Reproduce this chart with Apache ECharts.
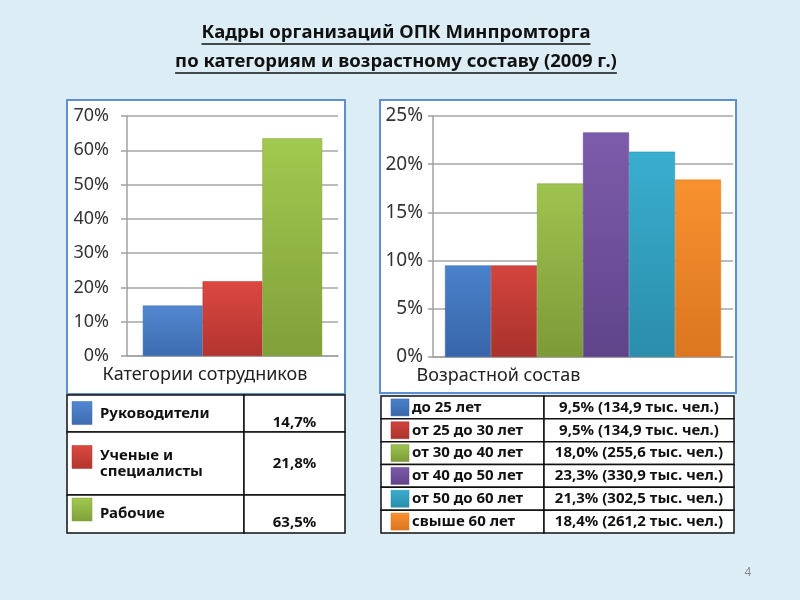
<!DOCTYPE html>
<html><head><meta charset="utf-8">
<script src="https://cdn.jsdelivr.net/npm/echarts@6/dist/echarts.min.js"></script>
<style>html,body{margin:0;padding:0;background:#dcedf5}#c{width:800px;height:600px}</style>
</head><body><div id="c"></div>
<script>
// ---- data ----
const titleLines = ['Кадры организаций ОПК Минпромторга', 'по категориям и возрастному составу (2009 г.)'];
const catAxis = ['Категории сотрудников'];
const catNames = ['Руководители', 'Ученые и\nспециалисты', 'Рабочие'];
const catValues = [14.7, 21.8, 63.5];
const ageAxis = ['Возрастной состав'];
const ageNames = ['до 25 лет', 'от 25 до 30 лет', 'от 30 до 40 лет', 'от 40 до 50 лет', 'от 50 до 60 лет', 'свыше 60 лет'];
const ageValues = [9.5, 9.5, 18.0, 23.3, 21.3, 18.4];
const ageThousands = [134.9, 134.9, 255.6, 330.9, 302.5, 261.2];
const leftTicks = {min: 0, max: 70, interval: 10};
const rightTicks = {min: 0, max: 25, interval: 5};
const pageNumber = '4';

// ---- styles ----
const FONT = '"Noto Sans", sans-serif';
const catColors = [['#5287d0', '#3d6cb0'], ['#dc4842', '#b3352f'], ['#a2c94f', '#80a03a']];
const ageColors = [['#4a82cc', '#3865a8'], ['#d4443e', '#a8322c'], ['#9fc34f', '#7d9a38'],
                   ['#7d5cab', '#5f448a'], ['#3aaecf', '#2a8dab'], ['#f8912f', '#dc7620']];
const fmt = v => v.toFixed(1).replace('.', ',');
const grad = c => new echarts.graphic.LinearGradient(0, 0, 0, 1, [{offset: 0, color: c[0]}, {offset: 1, color: c[1]}]);

const chart = echarts.init(document.getElementById('c'));

// measure text for underline
const ctx = document.createElement('canvas').getContext('2d');
function tw(text, font) { ctx.font = font; return ctx.measureText(text).width; }

const graphics = [];
// panels
graphics.push({type: 'rect', z: -10, shape: {x: 67, y: 100, width: 278, height: 294},
  style: {fill: '#fff', stroke: '#5c90d2', lineWidth: 2}});
graphics.push({type: 'rect', z: -10, shape: {x: 380, y: 100, width: 356, height: 293},
  style: {fill: '#fff', stroke: '#5c90d2', lineWidth: 2}});

// title
const titleFont = 'bold 18.5px "Noto Sans"';
const titleY = [33, 62];
titleLines.forEach((t, i) => {
  graphics.push({type: 'text', x: 396, y: titleY[i],
    style: {text: t, font: titleFont, fill: '#111', align: 'center', verticalAlign: 'middle'}});
  const w = tw(t, titleFont);
  graphics.push({type: 'line', shape: {x1: 396 - w / 2, y1: titleY[i] + 11, x2: 396 + w / 2, y2: titleY[i] + 11},
    style: {stroke: '#111', lineWidth: 1.5}});
});
graphics.push({type: 'text', x: 748, y: 573,
  style: {text: pageNumber, font: '12px "Noto Sans"', fill: '#8a8a8a', align: 'center', verticalAlign: 'middle'}});

// left table
const lRows = [395, 432, 495, 533];
const lCols = [67, 244, 345];
const lValOffset = [9, 0, 9];
const lSwOffset = [-12, -18, -16];
for (let i = 0; i < catNames.length; i++) {
  const top = lRows[i], h = lRows[i + 1] - lRows[i], cy = top + h / 2;
  graphics.push({type: 'rect', shape: {x: lCols[0], y: top, width: lCols[1] - lCols[0], height: h},
    style: {fill: '#fff', stroke: '#111', lineWidth: 1.5}});
  graphics.push({type: 'rect', shape: {x: lCols[1], y: top, width: lCols[2] - lCols[1], height: h},
    style: {fill: '#fff', stroke: '#111', lineWidth: 1.5}});
  graphics.push({type: 'rect', shape: {x: 72, y: cy + lSwOffset[i], width: 20, height: 23},
    style: {fill: grad(catColors[i]), stroke: catColors[i][1], lineWidth: 0.5}});
  graphics.push({type: 'text', x: 100, y: cy,
    style: {text: catNames[i], font: 'bold 15px "Noto Sans"', fill: '#111', verticalAlign: 'middle', lineHeight: 16}});
  graphics.push({type: 'text', x: (lCols[1] + lCols[2]) / 2, y: cy + lValOffset[i],
    style: {text: fmt(catValues[i]) + '%', font: 'bold 15px "Noto Sans"', fill: '#111', align: 'center', verticalAlign: 'middle'}});
}

// right table
const rTop = 396, rH = (533 - 396) / 6;
const rCols = [381, 544, 734];
for (let i = 0; i < ageNames.length; i++) {
  const top = rTop + i * rH, cy = top + rH / 2;
  graphics.push({type: 'rect', shape: {x: rCols[0], y: top, width: rCols[1] - rCols[0], height: rH},
    style: {fill: '#fff', stroke: '#111', lineWidth: 1.5}});
  graphics.push({type: 'rect', shape: {x: rCols[1], y: top, width: rCols[2] - rCols[1], height: rH},
    style: {fill: '#fff', stroke: '#111', lineWidth: 1.5}});
  graphics.push({type: 'rect', shape: {x: 391, y: cy - 8.5, width: 18, height: 17},
    style: {fill: grad(ageColors[i]), stroke: ageColors[i][1], lineWidth: 0.5}});
  graphics.push({type: 'text', x: 412, y: cy,
    style: {text: ageNames[i], font: 'bold 15px "Noto Sans"', fill: '#111', verticalAlign: 'middle'}});
  graphics.push({type: 'text', x: (rCols[1] + rCols[2]) / 2, y: cy,
    style: {text: fmt(ageValues[i]) + '% (' + fmt(ageThousands[i]) + ' тыс. чел.)',
      font: 'bold 15px "Noto Sans"', fill: '#111', align: 'center', verticalAlign: 'middle'}});
}

const yAxisCommon = (t, margin, tick, fs) => ({
  type: 'value', min: t.min, max: t.max, interval: t.interval,
  axisLabel: {formatter: v => v + '%', color: '#333', fontSize: fs, fontFamily: FONT, margin: margin},
  axisLine: {show: true, lineStyle: {color: '#a0a0a0', width: 1.5}},
  axisTick: {show: true, length: tick, lineStyle: {color: '#a0a0a0', width: 1.5}},
  splitLine: {show: true, lineStyle: {color: '#a6a6a6', width: 1.5}}
});

const series = [];
catValues.forEach((v, i) => series.push({
  type: 'bar', name: catNames[i], xAxisIndex: 0, yAxisIndex: 0, data: [v],
  barGap: '0%', barCategoryGap: '15%',
  itemStyle: {color: grad(catColors[i]), borderColor: catColors[i][1], borderWidth: 0.5}
}));
ageValues.forEach((v, i) => series.push({
  type: 'bar', name: ageNames[i], xAxisIndex: 1, yAxisIndex: 1, data: [v],
  barGap: '0%', barCategoryGap: '8%',
  itemStyle: {color: grad(ageColors[i]), borderColor: ageColors[i][1], borderWidth: 0.5}
}));

chart.setOption({
  backgroundColor: '#dcedf5',
  animation: false,
  textStyle: {fontFamily: FONT},
  grid: [
    {left: 127, top: 116, width: 211, height: 240},
    {left: 433, top: 116, width: 300, height: 241}
  ],
  xAxis: [
    {type: 'category', gridIndex: 0, data: catAxis,
      axisLine: {show: true, lineStyle: {color: '#a0a0a0', width: 1.5}}, axisTick: {show: false},
      axisLabel: {color: '#222', fontSize: 18, fontFamily: FONT, margin: 10, align: 'center', padding: [0, 55, 0, 0]}},
    {type: 'category', gridIndex: 1, data: ageAxis,
      axisLine: {show: true, lineStyle: {color: '#a0a0a0', width: 1.5}}, axisTick: {show: false},
      axisLabel: {color: '#222', fontSize: 18, fontFamily: FONT, margin: 10, align: 'center', padding: [0, 169, 0, 0]}}
  ],
  yAxis: [
    Object.assign({gridIndex: 0}, yAxisCommon(leftTicks, 18, 6, 18)),
    Object.assign({gridIndex: 1}, yAxisCommon(rightTicks, 10, 5, 19))
  ],
  series: series,
  graphic: graphics
});
</script>
</body></html>
